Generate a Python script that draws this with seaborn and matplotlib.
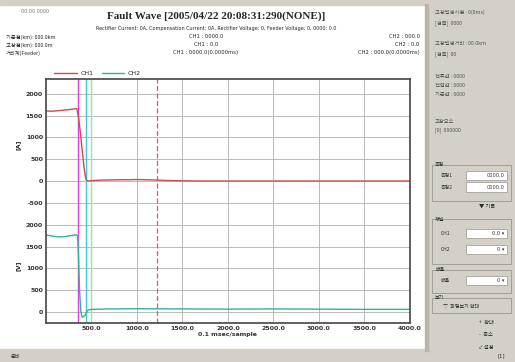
import numpy as np
import pandas as pd
import matplotlib
matplotlib.use('Agg')
import matplotlib.pyplot as plt
from matplotlib.patches import Rectangle
from matplotlib.ticker import MultipleLocator
import seaborn as sns

# sampled waveform (x = sample index, 0.1 ms/sample)
ch1_t = [0, 50, 100, 150, 200, 250, 300, 340, 360, 380, 400, 420, 440, 460, 500, 600, 700, 800,
         900, 1000, 1100, 1200, 1300, 1400, 1500, 1700, 2000, 2500, 3000, 3500, 4000]
ch1_v = [1610, 1600, 1605, 1615, 1625, 1635, 1650, 1660, 1450, 1100, 700, 300, 40, 0, 10, 20, 25, 30,
         30, 35, 30, 25, 15, 10, 5, 0, 0, 0, 0, 0, 0]
ch2_t = [0, 50, 100, 150, 200, 250, 300, 330, 350, 360, 370, 385, 400, 430, 460, 500, 700, 1000,
         1500, 2000, 2500, 3000, 3500, 4000]
ch2_v = [1760, 1750, 1730, 1720, 1725, 1740, 1760, 1770, 1750, 1200, 500, 0, -120, -80, 40, 60, 70, 75,
         70, 65, 70, 65, 60, 60]

ch1_offset = 3000  # CH1 sits on top of CH2 in one frame
tick_pos = [0, 500, 1000, 1500, 2000, 2500, 3000, 3500, 4000, 4500, 5000]
tick_lab = ['0', '500', '1000', '1500', '2000', '-500', '0', '500', '1000', '1500', '2000']
x_ticks = [500, 1000, 1500, 2000, 2500, 3000, 3500, 4000]
cursor_a, cursor_b, cursor_c, cursor_d = 352, 440, 495, 1220

df1 = pd.DataFrame({'t': ch1_t, 'v': np.array(ch1_v) + ch1_offset})
df2 = pd.DataFrame({'t': ch2_t, 'v': ch2_v})

sns.set_style('white')
plt.rcParams['font.family'] = ['DejaVu Sans', 'Noto Sans CJK KR']
kr = ['Noto Sans CJK KR', 'DejaVu Sans']

fig = plt.figure(figsize=(5.15, 3.62), dpi=100)
fig.patch.set_facecolor('white')

# window chrome
fig.add_artist(Rectangle((0, 0.985), 1, 0.015, transform=fig.transFigure, color='#d4d0c8', zorder=0))
fig.add_artist(Rectangle((0, 0), 1, 0.035, transform=fig.transFigure, color='#d4d0c8', zorder=0))
fig.add_artist(Rectangle((0.832, 0), 0.168, 1, transform=fig.transFigure, color='#d4d0c8', zorder=0))
fig.add_artist(Rectangle((0.826, 0.03), 0.006, 0.96, transform=fig.transFigure, color='#b8b4ac', zorder=0))

ax = fig.add_axes([0.089, 0.108, 0.707, 0.674])
sns.lineplot(data=df1, x='t', y='v', ax=ax, color='#d04a4a', lw=1.0, label='CH1')
sns.lineplot(data=df2, x='t', y='v', ax=ax, color='#2fb3a0', lw=1.0, label='CH2')

ax.axvline(cursor_a, color='#e040d8', lw=1.0, zorder=1)
ax.axvline(cursor_b, color='#40c8d8', lw=1.0, zorder=1)
ax.axvline(cursor_c, color='#a8e0a8', lw=1.0, zorder=1)
ax.axvline(cursor_d, color='#e05080', lw=0.9, ls=(0, (4, 2)), zorder=1)

ax.set_xlim(0, 4000)
ax.set_ylim(-250, 5340)
ax.set_xticks(x_ticks)
ax.set_xticklabels([f'{v:.1f}' for v in x_ticks], fontsize=4.5, fontweight='bold', color='#333333')
ax.set_yticks(tick_pos)
ax.set_yticklabels(tick_lab, fontsize=4.5, fontweight='bold', color='#333333')
ax.xaxis.set_minor_locator(MultipleLocator(100))
ax.yaxis.set_minor_locator(MultipleLocator(100))
ax.tick_params(which='both', direction='in', length=2.5, width=0.6, color='#555555', pad=2)
ax.tick_params(which='minor', length=1.5)
ax.grid(True, which='major', color='#b0b0b0', lw=0.6)
ax.set_xlabel('0.1 msec/sample', fontsize=4.5, fontweight='bold', color='#333333', labelpad=1)
ax.set_ylabel('')
for s in ax.spines.values():
    s.set_color('#444444')
    s.set_linewidth(1.2)

leg = ax.legend(loc='lower left', bbox_to_anchor=(0.015, 1.0), ncol=2, frameon=False,
                fontsize=4.5, handlelength=3.6, handletextpad=0.6, columnspacing=1.3,
                borderaxespad=0.1)

fig.text(0.035, 0.60, '[A]', rotation=90, fontsize=4.5, fontweight='bold', ha='center', va='center')
fig.text(0.035, 0.265, '[V]', rotation=90, fontsize=4.5, fontweight='bold', ha='center', va='center')

# header
fig.text(0.04, 0.963, '00:00 0000', fontsize=3.5, color='#777777')
fig.text(0.42, 0.955, 'Fault Wave [2005/04/22 20:08:31:290(NONE)]', fontsize=8,
         fontweight='bold', family='Liberation Serif', ha='center', va='center')
fig.text(0.42, 0.922, 'Rectifier Current: 0A, Compensation Current: 0A, Rectifier Voltage: 0, Feeder Voltage: 0, 0000: 0.0',
         fontsize=3.5, ha='center', va='center')
rows = [('기준점(km): 000.0km', 'CH1 : 0000.0', 'CH2 : 000.0'),
        ('고장점(km): 000.0m', 'CH1 : 0.0', 'CH2 : 0.0'),
        ('거리계(Feeder)', 'CH1 : 0000.0(0.0000ms)', 'CH2 : 000.0(0.0000ms)')]
for i, (a, b, c) in enumerate(rows):
    y = 0.898 - i * 0.022
    fig.text(0.012, y, a, fontsize=3.8, family=kr, va='center')
    fig.text(0.40, y, b, fontsize=3.8, va='center', ha='center')
    fig.text(0.815, y, c, fontsize=3.8, va='center', ha='right')

fig.text(0.02, 0.012, '준비', fontsize=3.8, family=kr, color='#333333')
fig.text(0.98, 0.012, '[1]', fontsize=3.8, ha='right', color='#333333')

# side panel
px = 0.845
side = [(0.965, '고장발생시점 : 0(0ms)'), (0.935, '[검출]  0000'),
        (0.880, '고장발생거리 : 00.0km'), (0.850, '[검출]  00'),
        (0.790, '전류값 : 0000'), (0.765, '전압값 : 0000'), (0.740, '기준값 : 0000'),
        (0.665, '고장요소'), (0.640, '[0]  000000')]
for y, t in side:
    fig.text(px, y, t, fontsize=3.8, family=kr, color='#555555', va='center')

def group(y0, h):
    fig.add_artist(Rectangle((0.838, y0), 0.155, h, transform=fig.transFigure,
                             fill=False, ec='#9a968e', lw=0.6))

def field(y, label, value):
    fig.text(0.855, y, label, fontsize=3.6, family=kr, va='center', color='#333333')
    fig.add_artist(Rectangle((0.905, y - 0.013), 0.08, 0.026, transform=fig.transFigure,
                             fc='white', ec='#9a968e', lw=0.5))
    fig.text(0.98, y, value, fontsize=3.6, ha='right', va='center', color='#333333')

fig.text(px, 0.545, '측정', fontsize=3.6, family=kr, va='center')
group(0.445, 0.1)
field(0.515, '측정1', '0000.0')
field(0.483, '측정2', '0000.0')
fig.text(0.93, 0.43, '▼ 기록', fontsize=3.8, family=kr, va='center')

fig.text(px, 0.395, '채널', fontsize=3.6, family=kr, va='center')
group(0.27, 0.125)
field(0.355, 'CH1', '0.0 ▾')
field(0.31, 'CH2', '0 ▾')

fig.text(px, 0.255, '배율', fontsize=3.6, family=kr, va='center')
group(0.19, 0.065)
field(0.225, '배율', '0 ▾')

fig.text(px, 0.178, '보기', fontsize=3.6, family=kr, va='center')
group(0.135, 0.043)
fig.text(0.86, 0.155, '▽  파형보기 확대', fontsize=3.6, family=kr, va='center')

for y, t in [(0.11, '+  확대'), (0.075, '-  축소'), (0.04, '✓ 설정')]:
    fig.text(0.93, y, t, fontsize=3.8, family=kr, va='center')

fig.savefig('out.png', dpi=100)
